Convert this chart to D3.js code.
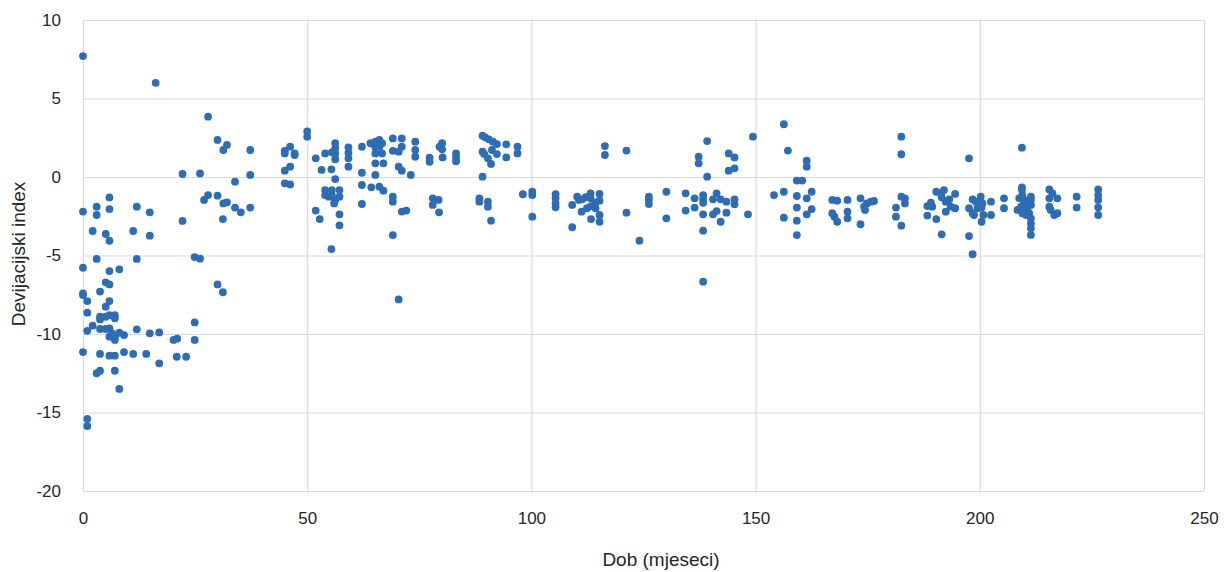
<!DOCTYPE html>
<html>
<head>
<meta charset="utf-8">
<script src="https://cdn.jsdelivr.net/npm/d3@7"></script>
<style>
  html, body { margin: 0; padding: 0; background: #ffffff; }
  svg { display: block; }
  text { font-family: 'Liberation Sans Narrow', 'Arial Narrow', 'Liberation Sans', sans-serif; fill: #262626; }
</style>
</head>
<body>
<svg id="chart" width="1224" height="572"></svg>
<script>
// ---- data ----
const xTicks = [0, 50, 100, 150, 200, 250];
const yTicks = [10, 5, 0, -5, -10, -15, -20];
const xTitle = "Dob (mjeseci)";
const yTitle = "Devijacijski index";

const ageMonths = [
  0, 16.2, 27.9, 30, 31.3, 32.1, 37.3, 22.2, 26.1, 37.3, 33.9, 5.9, 0, 3.05, 3.05, 5.9, 12, 14.9, 22.2, 27,
  27.9, 30, 31.3, 32.1, 31.2, 33.9, 35.2, 37.3, 2.16, 5.07, 5.9, 11.2, 14.9, 3.05, 12, 24.9, 26.1, 0, 5.9, 8.1,
  5.07, 5.9, 30, 31.2, 0, 0, 3.8, 0.96, 5.07, 5.9, 0.96, 3.8, 3.8, 5.07, 5.9, 7.1, 7.1, 2.16, 0.96, 3.8,
  5.07, 5.9, 6.5, 5.9, 7.1, 7.1, 8.1, 9.15, 12, 14.9, 17, 20.2, 21, 24.9, 24.9, 0, 3.8, 5.9, 7.1, 9.15,
  11.2, 14.1, 17, 20.9, 23, 3.05, 3.8, 7.1, 8.1, 0.96, 0.96,
  45, 45, 46.2, 47.2, 47.2, 50, 50, 51.9, 45, 46.2, 45, 46.2,
  51.9, 52.8, 54, 55.5, 56.25, 56.25, 56.25, 56.25, 53.2, 55.4, 56.25, 54, 54, 54.8, 55.5, 55.5, 56.25, 57.2,
  57.2, 56, 57.2, 57.2, 55.4, 59.2, 59.2, 59.2, 59.2,
  62.2, 62.2, 62.2, 64.3, 62.2,
  64.1, 65.2, 66.1, 66.7, 65.2, 66.1, 65.2, 66.7, 65.2, 67, 65.2, 66.1, 67,
  69.1, 71.1, 69.1, 70.4, 71.1, 70.4, 71.1, 73.1, 74.1, 74.1, 74.1, 69.1, 69.1, 71.1, 72.1, 69.1, 70.4,
  77.3, 77.3, 79.5, 80.1, 80.1, 80.2, 83.2, 83.2, 83.2, 78, 79.3, 78, 79.4,
  89.1, 89.7, 90.5, 91.4, 92.3, 94.4, 96.9, 96.9, 89.1, 89.5, 91.2, 92.3, 94.4, 90.3, 91, 89.1, 88.4, 88.4, 90.3, 90.3, 91,
  98.1, 100.2, 100.2, 100.2,
  105.4, 105.4, 105.4, 105.4, 109.1, 109.1,
  110.2, 110.6, 111.3, 112.1, 113.2, 113.2, 111.2, 112.4, 113.3, 114.3, 115.2, 115.2, 114.3, 113.3, 115.2, 115.2,
  116.4, 116.4, 121.2, 121.2, 124.1, 126.2, 126.2, 126.2, 130.1, 130.1, 134.4, 134.4, 136.4, 136.4, 137.3, 137.3,
  138.3, 138.3, 138.3, 138.3, 138.3, 138.3, 139.2, 139.2,
  140.5, 141.3, 142.2, 140.5, 141.3, 142.2, 143.5, 143.5, 145.3, 145.3,
  144, 145.3, 144, 145.3, 148.3, 149.4, 154.1,
  156.3, 157.2, 161.4, 161.4, 159.2, 160.4, 156.3, 156.3, 159.2, 159.2, 159.2, 159.2, 162.5, 161.4, 162.5, 161.4,
  167.1, 168.2, 170.5, 167.1, 167.6, 168.2, 170.5, 170.5,
  173.4, 173.4, 174.8, 175.7, 176.4, 174.2, 174.4,
  182.5, 182.5, 182.5, 183.3, 183.3, 181.3, 181.3, 182.5,
  188.3, 188.3, 189.1, 189.4, 190.3, 190.3, 191.3, 192, 191.5, 192.4, 193.2, 193.5, 194.5, 194.5, 192.4, 191.5,
  197.6, 197.6, 197.6, 198.4,
  198.4, 199.1, 200.2, 200.6, 199.5, 198.4, 198.7, 200.4, 200.4, 202.5, 202.5, 205.4, 205.4, 200.8,
  209.4, 209.4, 209.4,
  208.8, 209.5, 211.4, 208.4, 209.2, 209.9, 210.6, 211.4, 211.0, 211.4, 211.4, 211.4, 211.4, 210.3, 209.5, 210.6, 211.4, 209.9,
  215.5, 216.2, 217.3, 215.5, 215.8, 216.6, 217.3, 215.5,
  221.6, 221.6,
  226.4, 226.4, 226.4, 226.4, 226.4
];

const devIndex = [
  7.7, 6.0, 3.84, 2.36, 1.72, 2.04, 1.72, 0.19, 0.23, 0.13, -0.3, -1.3, -2.2, -1.89, -2.42, -2.04, -1.89, -2.25, -2.8, -1.46,
  -1.15, -1.19, -1.68, -1.61, -2.68, -1.95, -2.25, -1.95, -3.44, -3.63, -4.06, -3.44, -3.74, -5.22, -5.22, -5.1, -5.2, -5.78, -5.99, -5.88,
  -6.71, -6.84, -6.84, -7.34, -7.41, -7.52, -7.3, -7.9, -8.26, -7.9, -8.64, -8.9, -9.07, -8.9, -8.8, -8.8, -9.0, -9.47, -9.8, -9.68,
  -9.68, -9.64, -9.96, -10.17, -10.17, -10.38, -9.92, -10.07, -9.7, -9.96, -9.9, -10.38, -10.3, -9.26, -10.38, -11.15, -11.27, -11.38, -11.38, -11.15,
  -11.27, -11.27, -11.87, -11.45, -11.45, -12.5, -12.34, -12.34, -13.5, -15.4, -15.86,
  1.67, 1.5, 1.93, 1.5, 1.4, 2.9, 2.57, 1.19, 0.4, 0.66, -0.4, -0.47,
  -2.14, -2.68, 1.5, 1.57, 2.15, 1.83, 1.5, 1.13, 0.45, 0.49, -0.13, -0.83, -1.15, -1.25, -0.83, -1.15, -1.46, -0.83,
  -1.25, -1.68, -2.38, -3.08, -4.59, 1.89, 1.55, 1.19, 0.66,
  1.93, 0.27, -0.51, -0.66, -1.72,
  2.15, 2.25, 2.36, 2.15, 1.89, 1.93, 1.5, 1.5, 0.87, 0.87, 0.13, -0.62, -0.87,
  2.46, 2.46, 1.67, 1.61, 1.93, 0.66, 0.4, 0.13, 2.25, 1.72, 1.29, -1.25, -1.57, -2.2, -2.14, -3.7, -7.8,
  1.23, 0.97, 1.93, 2.15, 1.76, 1.25, 1.5, 1.25, 1.0, -1.36, -1.46, -1.78, -2.25,
  2.63, 2.53, 2.4, 2.25, 2.1, 2.08, 1.93, 1.5, 1.61, 1.46, 1.72, 1.46, 1.25, 1.19, 0.83, 0.02, -1.36, -1.57, -1.57, -1.89, -2.78,
  -1.1, -0.94, -1.15, -2.53,
  -1.1, -1.36, -1.68, -1.93, -1.78, -3.2,
  -1.25, -1.46, -1.42, -1.29, -1.04, -1.36, -2.21, -1.99, -1.85, -1.99, -1.08, -1.51, -1.64, -2.68, -2.42, -2.85,
  1.97, 1.4, 1.68, -2.27, -4.06, -1.25, -1.46, -1.72, -0.94, -2.63, -1.04, -2.14, -1.36, -1.95, 1.29, 0.87,
  -1.15, -1.4, -1.64, -2.38, -3.42, -6.67, 2.29, 0.02,
  -1.42, -1.04, -1.42, -2.38, -2.17, -2.85, -1.57, -2.27, -1.42, -1.74,
  1.5, 1.25, 0.4, 0.55, -2.38, 2.57, -1.15,
  3.36, 1.68, 1.04, 0.66, -0.23, -0.23, -0.94, -2.59, -1.21, -1.95, -2.78, -3.7, -0.94, -1.36, -2.04, -2.38,
  -1.46, -1.51, -1.46, -2.31, -2.53, -2.85, -2.21, -2.63,
  -1.36, -3.01, -1.68, -1.57, -1.53, -1.89, -2.1,
  2.57, 1.45, -1.25, -1.36, -1.68, -1.95, -2.53, -3.1,
  -1.85, -2.46, -1.64, -1.89, -0.94, -2.68, -1.04, -0.83, -1.29, -1.57, -1.42, -1.89, -1.08, -1.99, -2.21, -3.65,
  1.19, -1.99, -3.76, -4.92,
  -1.42, -1.57, -1.25, -1.68, -1.99, -2.31, -2.42, -1.95, -2.85, -1.57, -2.42, -1.36, -1.99, -2.42,
  1.87, -0.66, -0.83,
  -1.36, -1.15, -1.25, -2.1, -1.89, -1.68, -1.89, -1.46, -2.31, -2.63, -2.95, -3.27, -3.69, -2.42, -2.31, -2.1, -1.78, -1.46,
  -0.79, -1.04, -1.36, -1.89, -2.1, -2.42, -2.31, -1.36,
  -1.25, -1.95,
  -0.79, -1.15, -1.46, -1.93, -2.42
];

// ---- chart ----
const W = 1224, H = 572;
const margin = { left: 83, right: 20, top: 20, bottom: 81 };
const svg = d3.select("#chart");

const x = d3.scaleLinear().domain([0, 250]).range([margin.left, W - margin.right]);
const y = d3.scaleLinear().domain([-20, 10]).range([H - margin.bottom, margin.top]);

const gridColor = "#d9d9d9";
const fmt = d => String(d);   // plain hyphen-minus, as in the reference

// horizontal gridlines
svg.append("g")
  .attr("transform", `translate(${margin.left},0)`)
  .call(d3.axisLeft(y).tickValues(yTicks).tickSize(-(x.range()[1] - x.range()[0])).tickFormat(""))
  .call(g => g.select(".domain").remove())
  .call(g => g.selectAll("line").attr("stroke", gridColor).attr("stroke-width", 1.2));

// vertical gridlines
svg.append("g")
  .attr("transform", `translate(0,${margin.top})`)
  .call(d3.axisTop(x).tickValues(xTicks).tickSize(-(y.range()[0] - y.range()[1])).tickFormat(""))
  .call(g => g.select(".domain").remove())
  .call(g => g.selectAll("line").attr("stroke", gridColor).attr("stroke-width", 1.2));

// y tick labels
const yAxis = svg.append("g")
  .attr("transform", `translate(${margin.left},0)`)
  .call(d3.axisLeft(y).tickValues(yTicks).tickSize(0).tickPadding(22).tickFormat(fmt));
yAxis.select(".domain").remove();
yAxis.selectAll("text").style("font-size", "17px").attr("fill", "#262626")
  .style("font-family", "'Liberation Sans Narrow', 'Arial Narrow', 'Liberation Sans', sans-serif");

// x tick labels
const xAxis = svg.append("g")
  .attr("transform", `translate(0,${y.range()[0]})`)
  .call(d3.axisBottom(x).tickValues(xTicks).tickSize(0).tickPadding(21).tickFormat(fmt));
xAxis.select(".domain").remove();
xAxis.selectAll("text").style("font-size", "17px").attr("fill", "#262626")
  .style("font-family", "'Liberation Sans Narrow', 'Arial Narrow', 'Liberation Sans', sans-serif");

// points
const pts = ageMonths.map((a, i) => ({ a, v: devIndex[i] }));
svg.append("g")
  .selectAll("circle")
  .data(pts)
  .join("circle")
  .attr("cx", d => x(d.a))
  .attr("cy", d => y(d.v))
  .attr("r", 3.9)
  .attr("fill", "#2e6db4");

// axis titles
svg.append("text")
  .attr("x", 661).attr("y", 566)
  .attr("text-anchor", "middle")
  .style("font-size", "19px")
  .text(xTitle);

svg.append("text")
  .attr("transform", `translate(25,254) rotate(-90)`)
  .attr("text-anchor", "middle")
  .style("font-size", "19px")
  .text(yTitle);
</script>
</body>
</html>
